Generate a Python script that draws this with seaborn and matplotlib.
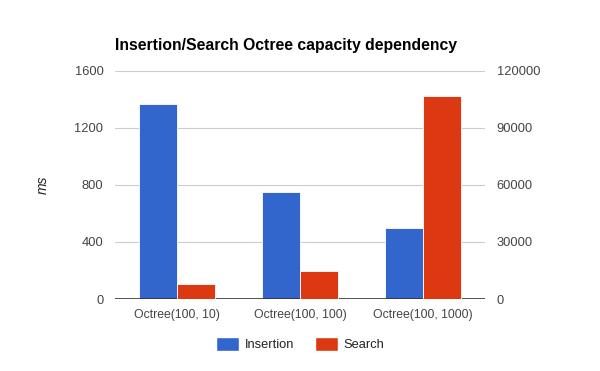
import pandas as pd
import seaborn as sns
import matplotlib.pyplot as plt
from matplotlib.patches import Patch

categories = ["Octree(100, 10)", "Octree(100, 100)", "Octree(100, 1000)"]
insertion_ms = [1365, 750, 497]
search_ms = [7900, 14700, 107000]
series = ["Insertion", "Search"]
colors = ["#3366cc", "#dc3912"]

sns.set_theme(style="white")
plt.rcParams['font.family'] = ['Liberation Sans', 'DejaVu Sans']

df_ins = pd.DataFrame({"cat": categories, "ms": insertion_ms, "series": "Insertion"})
df_sea = pd.DataFrame({"cat": categories, "ms": search_ms, "series": "Search"})

fig = plt.figure(figsize=(6, 3.71), dpi=100)
ax = fig.add_axes([0.192, 0.194, 0.616, 0.615])
ax2 = ax.twinx()

pal = dict(zip(series, colors))
# both axes reserve a slot for each series so the bars sit side by side
sns.barplot(data=df_ins, x="cat", y="ms", hue="series", hue_order=series,
            palette=pal, order=categories, width=0.62, saturation=1, dodge=True,
            ax=ax, legend=False, zorder=3)
sns.barplot(data=df_sea, x="cat", y="ms", hue="series", hue_order=series,
            palette=pal, order=categories, width=0.62, saturation=1, dodge=True,
            ax=ax2, legend=False, zorder=3)

for bar in ax.patches + ax2.patches:
    bar.set_edgecolor("white")
    bar.set_linewidth(0.6)

ax.set_ylim(0, 1600)
ax.set_yticks([0, 400, 800, 1200, 1600])
ax2.set_ylim(0, 120000)
ax2.set_yticks([0, 30000, 60000, 90000, 120000])
ax.set_xlim(-0.5, 2.5)

ax.yaxis.grid(True, color="#cccccc", linewidth=0.8)
ax.set_axisbelow(True)
for a in (ax, ax2):
    for s in ["top", "left", "right", "bottom"]:
        a.spines[s].set_visible(False)
    a.tick_params(length=0, labelsize=9.3, labelcolor="#444444")
    a.set_xlabel("")
    a.set_ylabel("")
ax.axhline(0, color="#333333", linewidth=1.2, zorder=5)
ax.tick_params(axis="y", pad=8.5)
ax2.tick_params(axis="y", pad=8.5)
ax.tick_params(axis="x", pad=7, labelsize=8.8)

ax.set_ylabel("ms", fontstyle="italic", fontsize=10, color="#222222", labelpad=18)
fig.text(0.192, 0.857, "Insertion/Search Octree capacity dependency",
         fontsize=11.3, fontweight="bold", color="black", ha="left", va="bottom")

handles = [Patch(facecolor=c, label=s) for s, c in zip(series, colors)]
fig.legend(handles=handles, loc="center", bbox_to_anchor=(0.5, 0.073), ncol=2,
           frameon=False, fontsize=9.3, handlelength=1.8, handleheight=1.3,
           columnspacing=1.6, handletextpad=0.4, labelcolor="#222222")

fig.savefig("out.png", dpi=100)
